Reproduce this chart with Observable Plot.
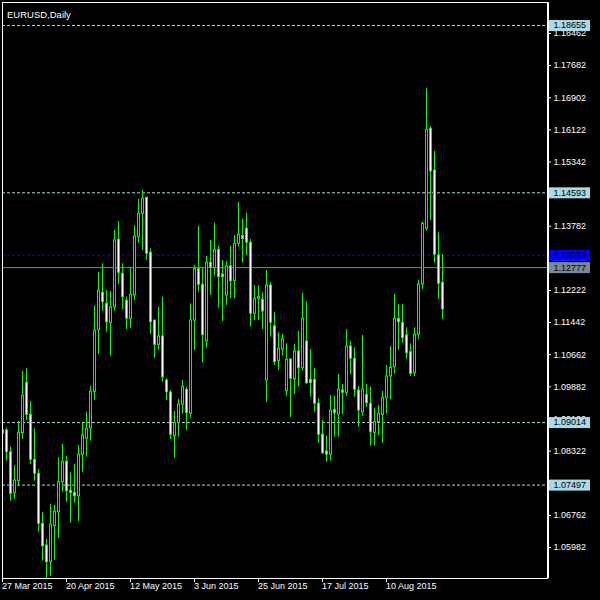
<!DOCTYPE html>
<html><head><meta charset="utf-8">
<script src="https://cdn.jsdelivr.net/npm/d3@7"></script>
<script src="https://cdn.jsdelivr.net/npm/@observablehq/plot@0.6"></script>
<style>html,body{margin:0;padding:0;background:#000;} #chart svg{display:block}</style>
</head><body><div id="chart"></div>
<script>
// EURUSD daily OHLC, 27 Mar 2015 .. 28 Aug 2015 (one entry per trading day)
const open = [1.08823,1.08823,1.08296,1.07300,1.07592,1.08757,1.09981,1.09204,1.08111,1.07771,
1.06557,1.06030,1.05625,1.06499,1.06839,1.07567,1.08063,1.07359,1.07310,1.07227,
1.08233,1.08621,1.08878,1.09762,1.11258,1.12166,1.11899,1.11428,1.11816,1.13453,
1.12627,1.11972,1.11525,1.12100,1.13516,1.14084,1.14473,1.13137,1.11493,1.10903,
1.11105,1.10037,1.09745,1.08684,1.09000,1.09447,1.09811,1.09228,1.11493,1.12739,
1.12360,1.10991,1.12894,1.12763,1.13210,1.12610,1.12100,1.12812,1.12448,1.13356,
1.13545,1.13720,1.13380,1.11656,1.12020,1.11996,1.10037,1.12343,1.11355,1.10505,
1.10789,1.09777,1.10546,1.10061,1.10741,1.10335,1.10984,1.10054,1.10054,1.09471,
1.08718,1.08313,1.08233,1.09325,1.09211,1.09794,1.09738,1.10862,1.10564,1.09794,
1.09267,1.09689,1.09471,1.08767,1.09024,1.09204,1.09607,1.10134,1.10360,1.11535,
1.11438,1.11129,1.10724,1.10214,1.11146,1.12368,1.13720,1.16148,1.15135,1.13072,1.12409];
const high = [1.08871,1.08888,1.08417,1.07973,1.09041,1.10255,1.10321,1.09527,1.08864,1.07876,
1.06824,1.06176,1.07026,1.07002,1.08160,1.08483,1.08191,1.07796,1.07997,1.08458,
1.09010,1.09267,1.09891,1.11850,1.12659,1.12870,1.12222,1.12198,1.13679,1.13897,
1.12870,1.12059,1.12773,1.13800,1.14431,1.14650,1.14473,1.13234,1.11493,1.11816,
1.12059,1.10078,1.09794,1.09284,1.09575,1.10037,1.09874,1.11899,1.12829,1.13776,
1.12763,1.13047,1.13436,1.13856,1.13297,1.12950,1.12926,1.13297,1.13557,1.14351,
1.13946,1.14099,1.13460,1.12343,1.12343,1.12166,1.12707,1.12409,1.11680,1.11195,
1.11154,1.10928,1.10564,1.10911,1.11226,1.12156,1.11955,1.10789,1.10335,1.09592,
1.09065,1.08684,1.09672,1.09648,1.10182,1.09940,1.11275,1.10984,1.10831,1.09891,
1.11129,1.09940,1.09874,1.09364,1.09430,1.09770,1.10401,1.10862,1.12125,1.11882,
1.11882,1.11316,1.10928,1.11316,1.12465,1.13880,1.17119,1.16204,1.15597,1.13623,1.13096];
const low = [1.08677,1.08077,1.07106,1.07147,1.07470,1.08604,1.09065,1.07997,1.07592,1.06353,
1.05649,1.05188,1.05285,1.05666,1.06208,1.07324,1.07082,1.06572,1.07057,1.06613,
1.07810,1.08174,1.08563,1.09551,1.10668,1.11712,1.11209,1.10627,1.11719,1.12368,
1.11761,1.11275,1.11306,1.11979,1.13370,1.13193,1.12950,1.11154,1.10578,1.10782,
1.09995,1.09551,1.08604,1.08150,1.08660,1.09228,1.08823,1.09121,1.10765,1.12181,
1.10457,1.10821,1.12100,1.12569,1.11792,1.11469,1.11858,1.12020,1.12020,1.13273,
1.12885,1.13072,1.11331,1.11493,1.11493,1.11275,1.09510,1.11088,1.10401,1.10279,
1.10627,1.09655,1.09131,1.09697,1.09874,1.10262,1.09932,1.09631,1.09267,1.08514,
1.08240,1.08053,1.08077,1.08660,1.08660,1.09211,1.09655,1.10175,1.09631,1.08903,
1.09170,1.09388,1.08441,1.08441,1.08701,1.08514,1.09228,1.09575,1.10199,1.10765,
1.10942,1.10546,1.10134,1.10134,1.11025,1.12246,1.13662,1.13921,1.12885,1.12003,1.11518];
const close = [1.08750,1.08296,1.07286,1.07609,1.08767,1.09665,1.09204,1.08111,1.07771,1.06557,
1.06013,1.05625,1.06540,1.06849,1.07567,1.08063,1.07349,1.07300,1.07227,1.08233,
1.08701,1.08864,1.09762,1.11243,1.12215,1.11938,1.11452,1.11816,1.13436,1.12652,
1.12059,1.11535,1.12117,1.13533,1.14084,1.14448,1.13113,1.11452,1.10903,1.11105,
1.10117,1.09753,1.08718,1.09010,1.09454,1.09884,1.09248,1.11493,1.12739,1.12360,
1.11137,1.12894,1.12773,1.13210,1.12545,1.12545,1.12805,1.12448,1.13356,1.13574,
1.13472,1.13380,1.11656,1.12020,1.12059,1.11712,1.12343,1.11438,1.10481,1.10806,
1.11032,1.10546,1.10078,1.10741,1.10335,1.11535,1.09971,1.09971,1.09471,1.08718,
1.08271,1.08233,1.09308,1.09243,1.09818,1.09738,1.10862,1.10564,1.09811,1.09308,
1.09818,1.09485,1.08781,1.09024,1.09228,1.09617,1.10134,1.10345,1.11535,1.11452,
1.11064,1.10699,1.10199,1.11146,1.12368,1.13841,1.16124,1.15111,1.13089,1.12385,1.11761];

// time axis labels (bar index of each label, and its text)
const dateTickIndex = [0, 16, 32, 48, 64, 80, 96];
const dateTickLabels = ["27 Mar 2015","20 Apr 2015","12 May 2015","3 Jun 2015","25 Jun 2015","17 Jul 2015","10 Aug 2015"];
// price axis tick values
const priceTicks = [1.18462,1.17682,1.16902,1.16122,1.15342,1.14562,1.13782,1.13002,1.12222,1.11442,1.10662,1.09882,1.09102,1.08322,1.07542,1.06762,1.05982];
// horizontal levels
const dashedLevels = [1.18655, 1.14593, 1.09014, 1.07497];
const blueLevel = 1.13076;
const greyLevel = 1.12777;
const title = "EURUSD,Daily";

const candles = open.map((o, i) => ({i, o, h: high[i], l: low[i], c: close[i], bull: close[i] > o}));
const bulls = candles.filter(d => d.bull);
const bears = candles.filter(d => !d.bull);

const X0 = -0.125, X1 = 136.125;
const Y0 = 1.05229, Y1 = 1.19214;
const pxY = (Y1 - Y0) / 576;

const boxes = [
  ...dashedLevels.map(v => ({v, bg: "#add8e6"})),
  {v: blueLevel, bg: "#0000ff"},
  {v: greyLevel, bg: "#778899"}
];
// tick labels that sit fully under a level box are not shown (as in the terminal)
const levelValues = boxes.map(b => b.v);
const visibleTickLabels = priceTicks.filter(t => levelValues.every(v => Math.abs(t - v) > 3 * pxY));
const GREEN = "#00ff00";

const chart = Plot.plot({
  width: 600, height: 600,
  marginLeft: 2, marginRight: 53, marginTop: 2, marginBottom: 22,
  style: {background: "#000", color: "#fff", fontFamily: "'Liberation Sans', Arial, sans-serif", fontSize: "9px"},
  x: {type: "linear", domain: [X0, X1], axis: null},
  y: {type: "linear", domain: [Y0, Y1], axis: null},
  marks: [
    Plot.ruleY(dashedLevels, {stroke: "#add8e6", strokeDasharray: "3,2"}),
    Plot.ruleY([blueLevel], {stroke: "#0000ff", strokeDasharray: "3,2"}),
    Plot.ruleY([greyLevel], {stroke: "#778899"}),
    // wicks
    Plot.rect(candles, {x1: d => d.i - 0.125, x2: d => d.i + 0.125, y1: "l", y2: "h", fill: GREEN, inset: 0, clip: true}),
    // body outlines
    Plot.rect(candles, {x1: d => d.i - 0.375, x2: d => d.i + 0.375, y1: "o", y2: "c", fill: GREEN, inset: 0, insetTop: -0.5, insetBottom: -0.5, clip: true}),
    // body fills
    Plot.rect(bulls, {x1: d => d.i - 0.125, x2: d => d.i + 0.125, y1: "o", y2: "c", fill: "#000", inset: 0, insetTop: 0.5, insetBottom: 0.5, clip: true}),
    Plot.rect(bears, {x1: d => d.i - 0.125, x2: d => d.i + 0.125, y1: "o", y2: "c", fill: "#fff", inset: 0, insetTop: 0.5, insetBottom: 0.5, clip: true}),
    // frame
    Plot.frame({stroke: "#fff"}),
    Plot.ruleX([X1 + 0.25], {stroke: "#fff"}),
    // price axis
    Plot.ruleY(priceTicks, {x1: () => X1, x2: () => X1 + 1, stroke: "#fff"}),
    Plot.text(visibleTickLabels, {y: d => d, text: d => d.toFixed(5), frameAnchor: "right", dx: 6, textAnchor: "start", fill: "#fff"}),
    // level label boxes
    Plot.rect(boxes, {x1: () => X1 + 0.5, x2: () => X1 + 10.75, y1: "v", y2: "v", insetTop: -5, insetBottom: -6, fill: d => d.bg}),
    Plot.text(boxes, {y: "v", text: d => d.v.toFixed(5), frameAnchor: "right", dx: 6, textAnchor: "start", fill: "#000"}),
    // time axis
    Plot.ruleX(dateTickIndex, {x: d => d, y1: () => Y0, y2: () => Y0 - 4 * pxY, stroke: "#fff", dx: -0.5}),
    Plot.text(dateTickIndex, {x: d => d, text: (d, k) => dateTickLabels[k], frameAnchor: "bottom", dy: 10, dx: -1, textAnchor: "start", fill: "#fff"}),
    // title
    Plot.text([title], {text: d => d, frameAnchor: "top-left", dx: 4.5, dy: 8.5, textAnchor: "start", fill: "#fff", fontSize: 9.5})
  ]
});
document.getElementById("chart").appendChild(chart);
</script>
</body></html>
